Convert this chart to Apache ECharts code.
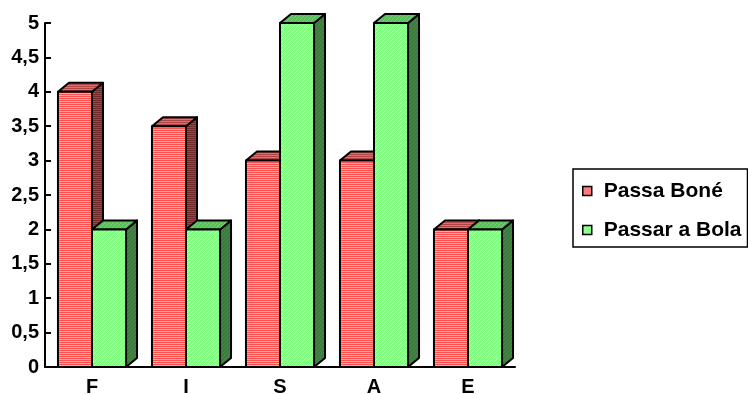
<!DOCTYPE html>
<html>
<head>
<meta charset="utf-8">
<script src="https://cdn.jsdelivr.net/npm/echarts@6/dist/echarts.min.js"></script>
<style>
html,body{margin:0;padding:0;background:#fff;}
#c{width:748px;height:394px;}
</style>
</head>
<body>
<div id="c"></div>
<script>
const categories = ['F', 'I', 'S', 'A', 'E'];
const seriesNames = ['Passa Boné', 'Passar a Bola'];
const passaBone = [4, 3.5, 3, 3, 2];
const passarBola = [2, 2, 5, 5, 2];
const yTicks = { min: 0, max: 5, interval: 0.5 };

function stripe(c1, c2) {
  const cv = document.createElement('canvas');
  cv.width = 4; cv.height = 2;
  const g = cv.getContext('2d');
  g.fillStyle = c1; g.fillRect(0, 0, 4, 1);
  g.fillStyle = c2; g.fillRect(0, 1, 4, 1);
  return { image: cv, repeat: 'repeat' };
}
function hatch(base, light) {
  const cv = document.createElement('canvas');
  cv.width = 4; cv.height = 4;
  const g = cv.getContext('2d');
  g.fillStyle = base; g.fillRect(0, 0, 4, 4);
  g.fillStyle = light;
  for (let i = 0; i < 4; i++) g.fillRect((3 - i + 4) % 4, i, 1, 1);
  return { image: cv, repeat: 'repeat' };
}

const styles = [
  { front: stripe('#ff5050', '#ffa8a8'), top: stripe('#b04444', '#d47474'), side: stripe('#702a2a', '#944848') },
  { front: hatch('#80ff80', '#b4ffb4'), top: hatch('#5cbc5c', '#78d078'), side: hatch('#3c7c3c', '#488a48') }
];

const DX = 11, DY = 9;

function makeRender(sIdx) {
  return function (params, api) {
    const idx = api.value(0);
    const val = api.value(1);
    const top = api.coord([idx, val]);
    const base = api.coord([idx, 0]);
    const bw = api.size([1, 0])[0] * 0.362;
    const cx = top[0];
    const x0 = sIdx === 0 ? cx - bw : cx;
    const x1 = x0 + bw;
    const yT = top[1], yB = base[1];
    const st = styles[sIdx];
    const line = { stroke: '#000', lineWidth: 2, lineJoin: 'round' };
    return {
      type: 'group',
      children: [
        { type: 'polygon', shape: { points: [[x1, yT], [x1 + DX, yT - DY], [x1 + DX, yB - DY], [x1, yB]] },
          style: Object.assign({ fill: st.side }, line) },
        { type: 'polygon', shape: { points: [[x0, yT], [x0 + DX, yT - DY], [x1 + DX, yT - DY], [x1, yT]] },
          style: Object.assign({ fill: st.top }, line) },
        { type: 'rect', shape: { x: x0, y: yT, width: bw, height: yB - yT },
          style: Object.assign({ fill: st.front }, line) }
      ]
    };
  };
}

const chart = echarts.init(document.getElementById('c'));
chart.setOption({
  animation: false,
  backgroundColor: '#fff',
  textStyle: { fontFamily: 'Liberation Sans, Arial, sans-serif' },
  grid: { left: 45, top: 23, right: 233, bottom: 27, containLabel: false, outerBoundsMode: 'none' },
  legend: {
    orient: 'vertical',
    left: 573, top: 169,
    padding: [10, 6, 5, 9],
    itemGap: 15,
    itemWidth: 9, itemHeight: 9,
    icon: 'rect',
    borderColor: '#000', borderWidth: 1.5,
    textStyle: { fontSize: 21, fontWeight: 'bold', color: '#000', lineHeight: 24, padding: [0, 0, 0, 7] },
    data: [
      { name: seriesNames[0], itemStyle: { color: styles[0].front, borderColor: '#000', borderWidth: 1.5 } },
      { name: seriesNames[1], itemStyle: { color: styles[1].front, borderColor: '#000', borderWidth: 1.5 } }
    ]
  },
  xAxis: {
    type: 'category',
    data: categories,
    boundaryGap: true,
    axisLine: { lineStyle: { color: '#000', width: 2 } },
    axisTick: { inside: true, length: 5, lineStyle: { color: '#000', width: 2 } },
    axisLabel: { color: '#000', fontSize: 20, fontWeight: 'bold', margin: 10 }
  },
  yAxis: {
    type: 'value',
    min: yTicks.min, max: yTicks.max, interval: yTicks.interval,
    splitLine: { show: false },
    axisLine: { show: true, lineStyle: { color: '#000', width: 2 } },
    axisTick: { show: true, inside: true, length: 6, lineStyle: { color: '#000', width: 2 } },
    axisLabel: { color: '#000', fontSize: 20, fontWeight: 'bold', margin: 6,
      formatter: v => String(v).replace('.', ',') }
  },
  series: [
    { name: seriesNames[0], type: 'custom', renderItem: makeRender(0),
      itemStyle: { color: '#ff6a6a' },
      data: passaBone.map((v, i) => [i, v]) },
    { name: seriesNames[1], type: 'custom', renderItem: makeRender(1),
      itemStyle: { color: '#80ff80' },
      data: passarBola.map((v, i) => [i, v]) }
  ]
});
</script>
</body>
</html>
